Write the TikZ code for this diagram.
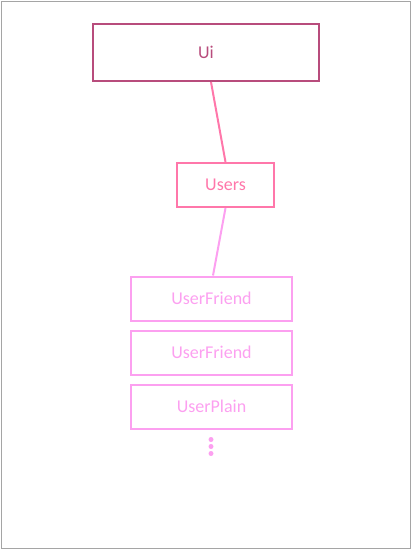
\documentclass[tikz,border=0pt]{standalone}
\usepackage{fontspec}
\setmainfont{Carlito}
\definecolor{cui}{RGB}{184,76,124}
\definecolor{cusers}{RGB}{255,119,170}
\definecolor{cleaf}{RGB}{252,160,240}
\definecolor{frame}{RGB}{165,165,165}
\begin{document}
\begin{tikzpicture}[x=1pt,y=-1pt,
  box/.style={draw,line width=2pt,minimum height=44pt,inner sep=0pt,font=\fontsize{18}{20}\selectfont},
  conn/.style={line width=2pt},
  dot/.style={fill=cleaf,circle,inner sep=0pt,minimum size=5pt}]
\useasboundingbox (0,0) rectangle (412,550);
\draw[frame,line width=1pt] (1,1) rectangle (410.5,548.5);
\node[box,draw=cui,text=cui,minimum width=226pt,minimum height=57pt] (ui) at (206,52.5) {Ui};
\node[box,draw=cusers,text=cusers,minimum width=97pt] (users) at (225.5,185) {Users};
\node[box,draw=cleaf,text=cleaf,minimum width=161pt] (uf1) at (211.5,298.5) {UserFriend};
\node[box,draw=cleaf,text=cleaf,minimum width=161pt] (uf2) at (211.5,352.5) {UserFriend};
\node[box,draw=cleaf,text=cleaf,minimum width=161pt] (up) at (211.5,406.5) {UserPlain};
\draw[conn,cusers] ([xshift=5pt]ui.south) -- (users.north);
\draw[conn,cleaf] (users.south) -- ([xshift=1.5pt]uf1.north);
\node[dot] (d1) at (211,439.5) {};
\node[dot] (d2) at (211,446.5) {};
\node[dot] (d3) at (211,453.5) {};
\end{tikzpicture}
\end{document}
